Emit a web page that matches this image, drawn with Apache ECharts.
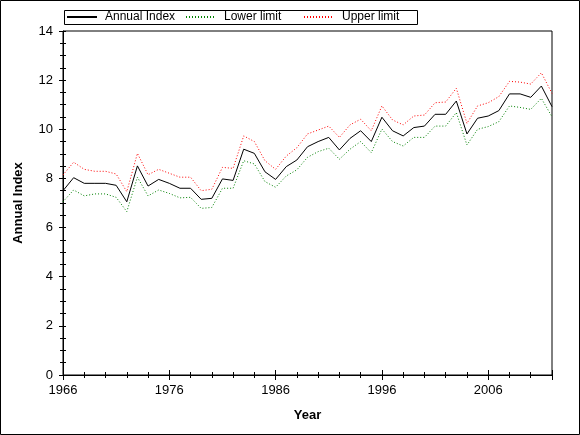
<!DOCTYPE html>
<html>
<head>
<meta charset="utf-8">
<script src="https://cdn.jsdelivr.net/npm/echarts@6/dist/echarts.min.js"></script>
<style>
html,body{margin:0;padding:0;background:#fff;}
#chart{width:580px;height:435px;}
</style>
</head>
<body>
<div id="chart"></div>
<script>
var years = [];
for (var y = 1966; y <= 2012; y++) years.push(y);

var annualIndex = [7.50,8.03,7.80,7.80,7.80,7.72,7.05,8.51,7.69,7.96,7.80,7.60,7.60,7.15,7.19,7.98,7.92,9.19,9.02,8.27,7.96,8.48,8.75,9.29,9.50,9.67,9.16,9.63,9.94,9.50,10.49,9.94,9.73,10.07,10.13,10.61,10.61,11.15,9.81,10.45,10.54,10.76,11.44,11.44,11.30,11.76,10.92];
var lowerLimit = [7.05,7.53,7.29,7.37,7.37,7.23,6.65,8.05,7.29,7.53,7.39,7.21,7.23,6.78,6.82,7.60,7.60,8.72,8.59,7.87,7.64,8.10,8.35,8.86,9.09,9.23,8.78,9.19,9.50,9.05,10.01,9.50,9.32,9.67,9.67,10.13,10.13,10.68,9.36,10.00,10.11,10.31,10.95,10.89,10.81,11.26,10.51];
var upperLimit = [8.14,8.66,8.37,8.29,8.29,8.18,7.46,9.02,8.15,8.37,8.21,8.05,8.05,7.50,7.56,8.45,8.41,9.73,9.50,8.72,8.37,8.91,9.25,9.81,9.97,10.13,9.67,10.18,10.41,9.94,10.95,10.38,10.18,10.54,10.58,11.08,11.11,11.67,10.24,10.95,11.08,11.33,11.95,11.92,11.84,12.30,11.46];
var seriesNames = ['Annual Index','Lower limit','Upper limit'];

var xMin = 1966, xMax = 2012, xInterval = 10;
var yMin = 0, yMax = 14, yInterval = 2;

function pairs(vals){ return years.map(function(yr,i){ return [yr, vals[i]]; }); }

var font = 'Arial, "Liberation Sans", sans-serif';
var chart = echarts.init(document.getElementById('chart'), null, {renderer:'canvas'});

var baseX = {
  type:'value', min:xMin, max:xMax, interval:xInterval, position:'bottom',
  splitLine:{show:false}
};
var baseY = {
  type:'value', min:yMin, max:yMax, interval:yInterval, position:'left',
  splitLine:{show:false}
};

var legendLefts = [66, 185, 303];
var legends = seriesNames.map(function(n, i){
  return {
    left:legendLefts[i], top:11, padding:0,
    itemWidth:30, itemHeight:12, itemGap:0,
    itemStyle:{opacity:0},
    textStyle:{fontFamily:font, fontSize:12, color:'#000', padding:[0,0,0,3]},
    data:[n]
  };
});

chart.setOption({
  animation:false,
  backgroundColor:'#fff',
  graphic:[
    {type:'rect', shape:{x:0.5,y:0.5,width:579,height:434}, style:{fill:'none', stroke:'#000', lineWidth:1}, silent:true},
    {type:'rect', shape:{x:64.5,y:10.5,width:353,height:14}, style:{fill:'none', stroke:'#000', lineWidth:1}, silent:true}
  ],
  legend:legends,
  grid:{left:63, right:28, top:31, bottom:60, show:true, borderColor:'#000', borderWidth:1, backgroundColor:'transparent'},
  xAxis:[
    Object.assign({}, baseX, {
      name:'Year', nameLocation:'middle', nameGap:34,
      nameTextStyle:{fontFamily:font, fontSize:13, fontWeight:'bold', color:'#000'},
      axisLine:{show:true, lineStyle:{color:'#000', width:1}},
      axisTick:{show:true, length:5, inside:false, lineStyle:{color:'#000'}},
      minorTick:{show:true, splitNumber:5, length:3, lineStyle:{color:'#000'}},
      axisLabel:{fontFamily:font, fontSize:13, color:'#000', margin:9, showMaxLabel:false,
        formatter:function(v){ return String(v); }}
    }),
    Object.assign({}, baseX, {
      axisLine:{show:false},
      axisTick:{show:true, length:5, inside:true, lineStyle:{color:'#000'}},
      minorTick:{show:true, splitNumber:5, length:3, lineStyle:{color:'#000'}},
      axisLabel:{show:false}
    })
  ],
  yAxis:[
    Object.assign({}, baseY, {
      name:'Annual Index', nameLocation:'middle', nameGap:38,
      nameTextStyle:{fontFamily:font, fontSize:13, fontWeight:'bold', color:'#000'},
      axisLine:{show:true, lineStyle:{color:'#000', width:1}},
      axisTick:{show:true, length:4, inside:false, lineStyle:{color:'#000'}},
      minorTick:{show:true, splitNumber:4, length:3, lineStyle:{color:'#000'}},
      axisLabel:{fontFamily:font, fontSize:13, color:'#000', margin:10}
    }),
    Object.assign({}, baseY, {
      axisLine:{show:false},
      axisTick:{show:true, length:3, inside:true, lineStyle:{color:'#000'}},
      minorTick:{show:true, splitNumber:4, length:3, lineStyle:{color:'#000'}},
      axisLabel:{show:false}
    })
  ],
  series:[
    {name:seriesNames[1], type:'line', xAxisIndex:0, yAxisIndex:0, data:pairs(lowerLimit), symbol:'none', color:'#008000',
     lineStyle:{color:'#008000', width:1, type:[1,2]}},
    {name:seriesNames[2], type:'line', xAxisIndex:0, yAxisIndex:0, data:pairs(upperLimit), symbol:'none', color:'#ff0000',
     lineStyle:{color:'#ff0000', width:1, type:[1,2]}},
    {name:seriesNames[0], type:'line', xAxisIndex:0, yAxisIndex:0, data:pairs(annualIndex), symbol:'none', color:'#000',
     lineStyle:{color:'#000', width:1, type:'solid'}}
  ]
});
</script>
</body>
</html>
